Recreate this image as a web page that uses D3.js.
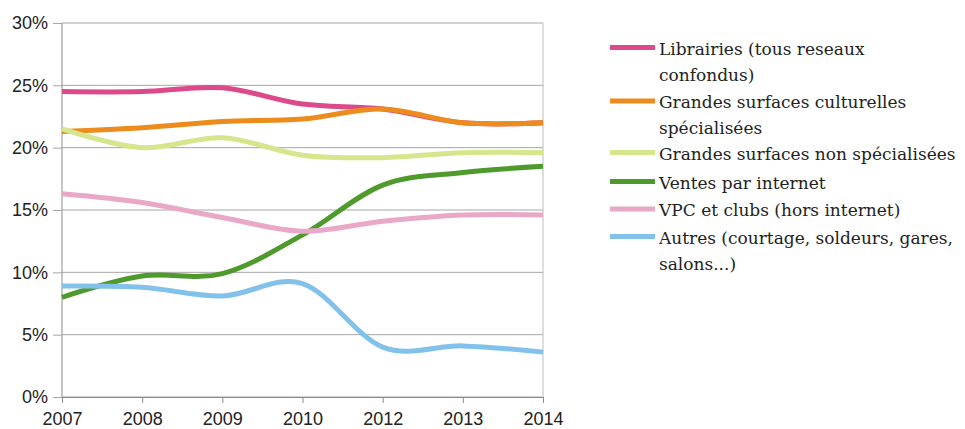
<!DOCTYPE html>
<html><head><meta charset="utf-8">
<script src="https://cdn.jsdelivr.net/npm/d3@7"></script>
<style>body{margin:0;background:#fff}svg{display:block}
.ax text{font-family:"Liberation Sans",Arial,sans-serif;font-size:18px;fill:#222}
.lg text{font-family:"DejaVu Serif",serif;font-size:17px;fill:#222}
</style>
</head><body>
<svg id="chart" width="965" height="429"></svg>
<script>
const years = ["2007","2008","2009","2010","2012","2013","2014"];
const yTicks = [0,5,10,15,20,25,30];
const librairies = [24.5,24.5,24.8,23.5,23.1,22.0,22.0];
const gsc = [21.3,21.6,22.1,22.3,23.1,22.0,22.0];
const gsns = [21.5,20.0,20.8,19.4,19.2,19.6,19.6];
const internet = [8.0,9.7,9.9,13.0,17.0,18.0,18.5];
const vpc = [16.3,15.6,14.4,13.3,14.1,14.6,14.6];
const autres = [8.9,8.8,8.1,9.1,4.0,4.1,3.6];
const seriesNames = [
  ["Librairies (tous reseaux","confondus)"],
  ["Grandes surfaces culturelles","spécialisées"],
  ["Grandes surfaces non spécialisées"],
  ["Ventes par internet"],
  ["VPC et clubs (hors internet)"],
  ["Autres (courtage, soldeurs, gares,","salons...)"]
];
const seriesValues = [librairies, gsc, gsns, internet, vpc, autres];
const colors = ["#dc4a8c","#ec8c1c","#d5e68c","#4e9a2c","#eaa8c8","#82c2ea"];

const svg = d3.select("#chart");
const x = d3.scalePoint().domain(years).range([62,543]);
const y = d3.scaleLinear().domain([0,30]).range([397,23]);

svg.append("g").selectAll("line").data(yTicks).join("line")
  .attr("x1",62).attr("x2",543).attr("y1",d=>y(d)).attr("y2",d=>y(d))
  .attr("stroke","#a6a6a6").attr("stroke-width",1);
svg.append("line").attr("x1",543).attr("x2",543).attr("y1",y(30)).attr("y2",y(0))
  .attr("stroke","#bdbdbd");
svg.append("line").attr("x1",62).attr("x2",62).attr("y1",y(30)).attr("y2",y(0))
  .attr("stroke","#8c8c8c");

const yAxis = d3.axisLeft(y).tickValues(yTicks).tickFormat(d=>d+"%").tickSize(9).tickPadding(5);
const gy = svg.append("g").attr("class","ax").attr("transform","translate(62,0)").call(yAxis);
gy.select(".domain").remove();
gy.selectAll(".tick line").attr("stroke","#a6a6a6");
gy.selectAll("text").attr("fill",null);

const xAxis = d3.axisBottom(x).tickSize(6).tickPadding(9);
const gx = svg.append("g").attr("class","ax").attr("transform","translate(0,397)").call(xAxis);
gx.select(".domain").attr("stroke","#8c8c8c");
gx.selectAll(".tick line").attr("stroke","#8c8c8c");
gx.selectAll("text").attr("fill",null);
gy.attr("font-family",null).attr("font-size",null);
gx.attr("font-family",null).attr("font-size",null);

const line = d3.line().x((d,i)=>x(years[i])).y(d=>y(d)).curve(d3.curveCatmullRom.alpha(0));
seriesValues.forEach((vals,k)=>{
  svg.append("path").datum(vals).attr("d",line).attr("fill","none")
    .attr("stroke",colors[k]).attr("stroke-width",5).attr("stroke-linecap","butt");
});

const legTops = [47.5,101,152.5,181.5,209,236.5];
const leg = svg.append("g").attr("class","lg");
seriesNames.forEach((lines,k)=>{
  const g = leg.append("g").attr("transform",`translate(0,${legTops[k]})`);
  g.append("line").attr("x1",610).attr("x2",655).attr("y1",0).attr("y2",0)
    .attr("stroke",colors[k]).attr("stroke-width",5);
  lines.forEach((t,j)=>{
    g.append("text").attr("x",659).attr("y",j*26+7).text(t);
  });
});
</script>
</body></html>
